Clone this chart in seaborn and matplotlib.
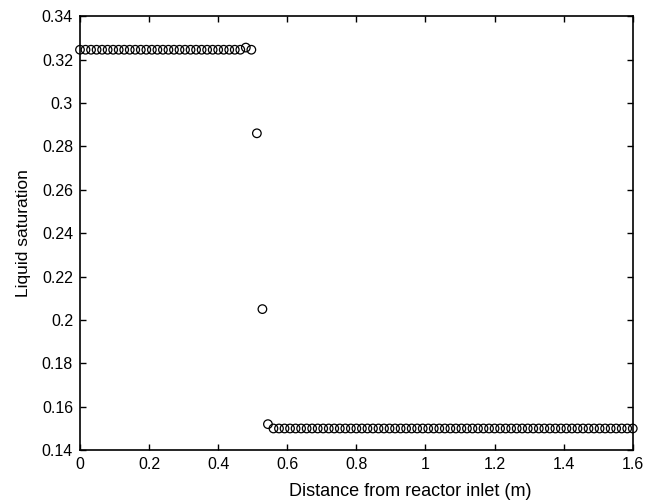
import numpy as np
import matplotlib
matplotlib.use('Agg')
import matplotlib.pyplot as plt
import pandas as pd
import seaborn as sns

# grid points along the reactor (m)
distance = np.linspace(0, 1.6, 101)
# liquid saturation
saturation = ([0.3245] * 30
              + [0.3255, 0.3245, 0.286, 0.205, 0.152]
              + [0.150] * 66)

df = pd.DataFrame({'distance': distance, 'saturation': saturation})

sns.set_theme(style='white')
plt.rcParams['font.family'] = ['Liberation Sans', 'DejaVu Sans']
plt.rcParams['xtick.direction'] = 'in'
plt.rcParams['ytick.direction'] = 'in'

fig = plt.figure(figsize=(6.53, 5.03), dpi=100)
ax = fig.add_axes([0.1225, 0.105, 0.8465, 0.863])

sns.scatterplot(x='distance', y='saturation', data=df, ax=ax, marker='o',
                s=38, facecolor='none', edgecolor='black', linewidth=0.9,
                clip_on=False)

ax.set_xlim(0, 1.6)
ax.set_ylim(0.14, 0.34)
ax.set_xticks(np.arange(0, 1.61, 0.2))
ax.set_yticks(np.arange(0.14, 0.341, 0.02))
ax.set_xticklabels(['0', '0.2', '0.4', '0.6', '0.8', '1', '1.2', '1.4', '1.6'])
ax.set_yticklabels(['0.14', '0.16', '0.18', '0.2', '0.22', '0.24', '0.26',
                    '0.28', '0.3', '0.32', '0.34'])
ax.tick_params(axis='both', which='both', length=4, width=1, color='black',
               labelsize=11.5, labelcolor='black', top=True, right=True,
               bottom=True, left=True, pad=5)
for s in ax.spines.values():
    s.set_color('black')
    s.set_linewidth(1.2)
ax.set_xlabel('Distance from reactor inlet (m)', fontsize=13, color='black')
ax.set_ylabel('Liquid saturation', fontsize=12.5, color='black')
ax.xaxis.set_label_coords(0.597, -0.075)
ax.yaxis.set_label_coords(-0.088, 0.5)

fig.savefig('out.png', dpi=100)
